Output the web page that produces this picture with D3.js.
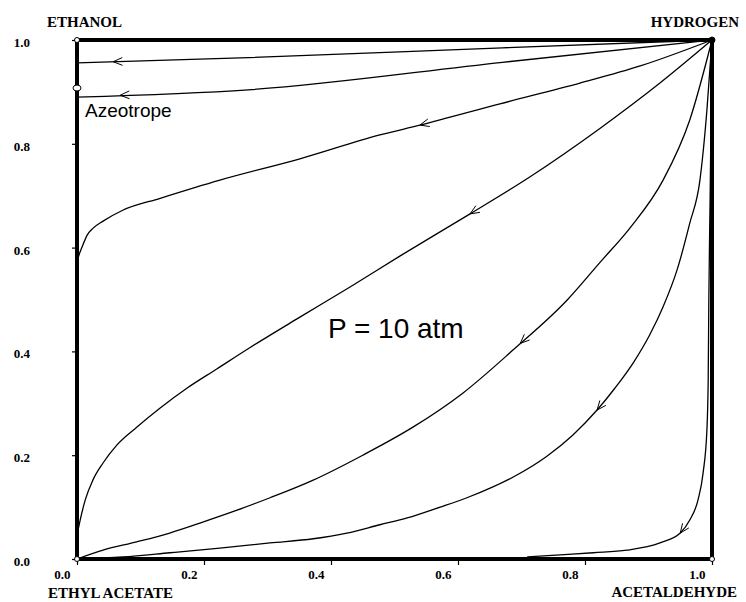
<!DOCTYPE html>
<html>
<head>
<meta charset="utf-8">
<script src="https://cdn.jsdelivr.net/npm/d3@7"></script>
<style>
  body{margin:0;background:#fff;}
  svg{display:block;}
</style>
</head>
<body>
<svg width="746" height="602"></svg>
<script>
// residue curves, each listed from its end point up to HYDROGEN (1,1)
// x = acetaldehyde side, y = ethanol side
const curve1 = [[0,0.956],[0.27,0.966],[0.67,0.985],[1,1]];
const curve2 = [[0,0.890],[0.27,0.904],[0.67,0.957],[1,1]];
const curve3 = [[0,0.572],[0.003,0.585],[0.008,0.601],[0.016,0.624],[0.025,0.637],[0.041,0.651],
  [0.072,0.672],[0.131,0.695],[0.225,0.730],[0.351,0.771],[0.477,0.817],[0.540,0.836],
  [0.666,0.877],[0.792,0.917],[0.887,0.950],[1,1]];
const curve4 = [[0,0.046],[0.005,0.075],[0.013,0.114],[0.025,0.152],[0.041,0.185],[0.063,0.220],
  [0.094,0.254],[0.131,0.291],[0.173,0.329],[0.220,0.366],[0.272,0.407],[0.351,0.466],
  [0.430,0.524],[0.509,0.584],[0.619,0.665],[0.713,0.736],[0.824,0.830],[0.918,0.917],[1,1]];
const curve5 = [[0,0],[0.041,0.017],[0.094,0.033],[0.146,0.050],[0.198,0.071],[0.252,0.094],
  [0.304,0.118],[0.372,0.152],[0.450,0.200],[0.529,0.254],[0.608,0.320],[0.687,0.403],
  [0.772,0.499],[0.824,0.572],[0.871,0.638],[0.923,0.730],[0.965,0.846],[1,1]];
const curve6 = [[0,0],[0.072,0.004],[0.146,0.012],[0.225,0.021],[0.304,0.031],[0.372,0.039],
  [0.425,0.050],[0.477,0.066],[0.520,0.079],[0.572,0.100],[0.614,0.118],[0.655,0.139],
  [0.687,0.158],[0.740,0.198],[0.781,0.239],[0.819,0.287],[0.847,0.329],[0.876,0.378],
  [0.902,0.432],[0.923,0.486],[0.945,0.557],[0.965,0.647],[0.981,0.730],[0.992,0.865],[1,1]];
const curve7 = [[0.709,0.004],[0.761,0.008],[0.813,0.012],[0.866,0.017],[0.918,0.031],
  [0.950,0.050],[0.965,0.075],[0.978,0.114],[0.986,0.166],[0.992,0.249],[0.994,0.345],
  [0.995,0.499],[0.997,0.692],[1,1]];
const curves = [curve1,curve2,curve3,curve4,curve5,curve6,curve7];

// x position of the arrow on each curve
const arrowX = [0.057,0.068,0.540,0.619,0.698,0.819,0.950];

const tickValues = [0,0.2,0.4,0.6,0.8,1.0];
const azeotrope = [0,0.9075];
const cornerNames = ["ETHANOL","HYDROGEN","ETHYL ACETATE","ACETALDEHYDE"];

let svg = d3.select("svg");
let x = d3.scaleLinear().domain([0,1]).range([77,712]);
let y = d3.scaleLinear().domain([0,1]).range([559,40]);

// axes
let xAxis = svg.append("g")
    .attr("transform","translate(0,559)")
    .call(d3.axisBottom(x).tickValues(tickValues).tickFormat(d3.format(".1f")).tickSize(6));
xAxis.select(".domain").remove();
xAxis.selectAll("text")
    .attr("text-anchor","end")
    .attr("x",-7)
    .attr("y",20)
    .attr("dy",null);

let yAxis = svg.append("g")
    .attr("transform","translate(77,0)")
    .call(d3.axisLeft(y).tickValues(tickValues).tickFormat(d3.format(".1f")).tickSize(5).tickPadding(42));
yAxis.select(".domain").remove();
yAxis.selectAll("text").attr("dy","0.5em");

svg.selectAll(".tick text")
    .style("font-family","'Liberation Serif', serif")
    .style("font-weight","bold")
    .style("font-size","13px")
    .attr("fill","#000");
svg.selectAll(".tick line").attr("stroke","#000").attr("stroke-width",1.2);

// thick frame
svg.append("rect")
    .attr("x",x(0)).attr("y",y(1))
    .attr("width",x(1)-x(0)).attr("height",y(0)-y(1))
    .attr("fill","none")
    .attr("stroke","#000")
    .attr("stroke-width",4);

// curves
let line = d3.line()
    .x(d=>x(d[0]))
    .y(d=>y(d[1]))
    .curve(d3.curveMonotoneX);

svg.append("g").selectAll("path")
    .data(curves)
    .join("path")
    .attr("d",line)
    .attr("fill","none")
    .attr("stroke","#000")
    .attr("stroke-width",1.3);

// arrows, pointing away from hydrogen
for(let i=0;i<curves.length;i++){
  let pts = curves[i];
  let k = d3.bisector(d=>d[0]).right(pts,arrowX[i]);
  k = Math.max(1,Math.min(pts.length-1,k));
  let a = pts[k-1], b = pts[k];
  let t = (arrowX[i]-a[0])/(b[0]-a[0]);
  let tipX = x(arrowX[i]);
  let tipY = y(a[1]+t*(b[1]-a[1]));
  let dx = x(a[0])-x(b[0]);
  let dy = y(a[1])-y(b[1]);
  let len = Math.sqrt(dx*dx+dy*dy);
  dx = dx/len; dy = dy/len;
  let L = 10, ang = 0.4;
  let w1 = [tipX-L*(dx*Math.cos(ang)-dy*Math.sin(ang)), tipY-L*(dy*Math.cos(ang)+dx*Math.sin(ang))];
  let w2 = [tipX-L*(dx*Math.cos(ang)+dy*Math.sin(ang)), tipY-L*(dy*Math.cos(ang)-dx*Math.sin(ang))];
  svg.append("path")
      .attr("d",`M${w1[0]},${w1[1]}L${tipX},${tipY}L${w2[0]},${w2[1]}`)
      .attr("fill","none")
      .attr("stroke","#000")
      .attr("stroke-width",1);
}

// corner points
let corners = [[0,1],[1,1],[0,0],[1,0]];
svg.append("g").selectAll("circle")
    .data(corners)
    .join("circle")
    .attr("cx",d=>x(d[0]))
    .attr("cy",d=>y(d[1]))
    .attr("r",(d,i)=>i==1?3:2.5)
    .attr("fill",(d,i)=>i==1?"#000":"#fff")
    .attr("stroke","#000")
    .attr("stroke-width",1);

// azeotrope
svg.append("ellipse")
    .attr("cx",x(azeotrope[0]))
    .attr("cy",y(azeotrope[1]))
    .attr("rx",4).attr("ry",3)
    .attr("fill","#fff")
    .attr("stroke","#000")
    .attr("stroke-width",1);

svg.append("text")
    .attr("x",x(azeotrope[0])+8)
    .attr("y",y(azeotrope[1])+29)
    .style("font-family","'Liberation Sans', Arial, sans-serif")
    .style("font-size","19px")
    .text("Azeotrope");

svg.append("text")
    .attr("x",328)
    .attr("y",338)
    .style("font-family","'Liberation Sans', Arial, sans-serif")
    .style("font-size","28px")
    .text("P = 10 atm");

// corner names
let namePos = [[47,27,"start"],[739,27,"end"],[48,598,"start"],[737,597,"end"]];
svg.append("g").selectAll("text")
    .data(cornerNames)
    .join("text")
    .attr("x",(d,i)=>namePos[i][0])
    .attr("y",(d,i)=>namePos[i][1])
    .attr("text-anchor",(d,i)=>namePos[i][2])
    .style("font-family","'Liberation Serif', serif")
    .style("font-weight","bold")
    .style("font-size","15px")
    .text(d=>d);
</script>
</body>
</html>
